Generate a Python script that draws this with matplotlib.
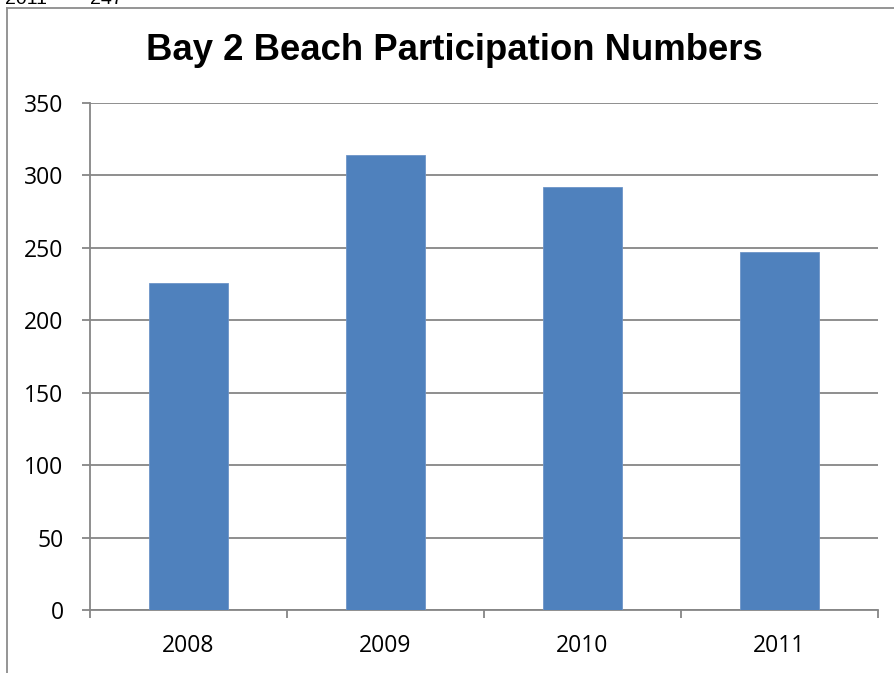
import matplotlib.pyplot as plt
from matplotlib.lines import Line2D

# Data
years = ["2008", "2009", "2010", "2011"]
participants = [226, 314, 292, 247]
y_ticks = [0, 50, 100, 150, 200, 250, 300, 350]

BAR = "#4f81bd"
GRID = "#868686"
W, H = 895, 673

fig = plt.figure(figsize=(W / 100, H / 100), dpi=100)
fig.patch.set_facecolor("white")

# chart frame: only left and top edges show in the screenshot
fig.add_artist(Line2D([7 / W, 7 / W], [0, 1 - 8 / H], transform=fig.transFigure,
                      color="#8c8c8c", lw=1.3))
fig.add_artist(Line2D([7 / W, 1], [1 - 8 / H, 1 - 8 / H], transform=fig.transFigure,
                      color="#8c8c8c", lw=1.3))
# clipped cell text above the chart
fig.text(5 / W, 1.0 + 9 / H, "2011        247", fontsize=14,
         family="Liberation Sans", va="top", ha="left", color="black")

ax = fig.add_axes([90 / W, 63 / H, 788 / W, 507 / H])
x = range(len(years))
ax.bar(x, participants, width=0.4, color=BAR, edgecolor="#6d95c8", lw=0.6, zorder=3)

ax.set_xlim(-0.5, len(years) - 0.5)
ax.set_ylim(0, 350)
ax.set_yticks(y_ticks)
ax.set_yticklabels([str(v) for v in y_ticks], family="Open Sans", fontsize=16.5)
ax.set_xticks(list(x))
ax.set_xticklabels(years, family="Open Sans", fontsize=16.5)
ax.tick_params(axis="x", length=0, pad=17)
ax.tick_params(axis="y", length=6, color=GRID, width=1.3, pad=13)
# category boundary ticks
ax.set_xticks([i - 0.5 for i in range(len(years) + 1)], minor=True)
ax.tick_params(axis="x", which="minor", length=6, color=GRID, width=1.3)

ax.grid(axis="y", color=GRID, lw=1.3, zorder=0)
for s in ["top", "right"]:
    ax.spines[s].set_visible(False)
for s in ["left", "bottom"]:
    ax.spines[s].set_color(GRID)
    ax.spines[s].set_linewidth(1.3)

fig.text(454 / W, 1 - 51 / H, "Bay 2 Beach Participation Numbers",
         ha="center", va="center", fontsize=26.3, fontweight="bold",
         family="Liberation Sans")

fig.savefig("out.png", dpi=100)
